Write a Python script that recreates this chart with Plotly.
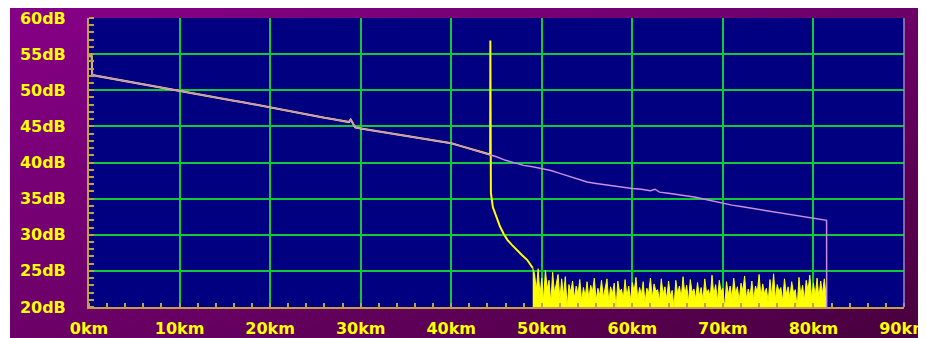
import base64
import plotly.graph_objects as go

# ---------------- data ----------------
# Violet trace (full fibre trace), distance in km, level in dB
pink_km = [0, 0.3, 0.35, 1, 2, 3, 4, 5, 6, 7, 8, 9, 10, 11, 12, 13, 14, 15, 16, 17, 18, 19,
           20, 21, 22, 23, 24, 25, 26, 27, 28, 28.7, 28.9, 29.1, 29.4, 30, 31, 32, 33, 34,
           35, 36, 37, 38, 39, 40, 41, 42, 43, 44, 44.5, 45, 46, 47, 48, 49, 50, 51, 52,
           53, 54, 55, 56, 57, 58, 59, 60, 61, 62, 62.5, 63, 64, 65, 66, 67, 68, 69, 70,
           71, 72, 73, 74, 75, 76, 77, 78, 79, 80, 81, 81.45, 81.46]
pink_db = [54.7, 54.7, 52.1, 51.95, 51.7, 51.5, 51.25, 51.0, 50.8, 50.6, 50.35, 50.15, 49.9,
           49.7, 49.4, 49.2, 49.0, 48.8, 48.55, 48.35, 48.1, 47.9, 47.7, 47.45, 47.2, 46.9,
           46.65, 46.4, 46.2, 46.0, 45.8, 45.6, 45.95, 45.5, 44.85, 44.7, 44.5, 44.3, 44.1,
           43.9, 43.7, 43.5, 43.3, 43.1, 42.9, 42.65, 42.3, 41.95, 41.6, 41.2, 41.0, 40.8,
           40.3, 39.9, 39.6, 39.4, 39.2, 38.9, 38.5, 38.1, 37.7, 37.3, 37.1, 36.9, 36.7,
           36.5, 36.4, 36.3, 36.1, 36.3, 35.9, 35.75, 35.6, 35.4, 35.2, 34.9, 34.6, 34.35,
           34.1, 33.9, 33.7, 33.5, 33.3, 33.1, 32.9, 32.7, 32.5, 32.3, 32.1, 32.0, 19.0]

# Yellow trace: reflection event near 44.3 km and decay
reflect_km = [44.3, 44.32, 44.38, 44.6, 45.0, 45.4, 45.8, 46.2, 46.7, 47.2, 47.8, 48.4, 49.0]
reflect_db = [41.1, 56.9, 35.8, 33.8, 32.3, 31.1, 30.1, 29.3, 28.6, 27.9, 27.2, 26.5, 25.4]

# Yellow trace: noise floor after the reflection (one reading every 0.2 km from 49.2 km)
noise_start_km = 49.2
noise_step_km = 0.2
noise_db = [
    24.6, 22.3, 25.3, 21.6, 24.0, 20.9, 25.1, 22.5, 23.7, 20.6,
    24.8, 21.9, 23.4, 24.5, 21.0, 23.9, 21.5, 24.2, 19.9, 23.1,
    22.0, 23.6, 21.2, 22.9, 21.7, 23.8, 20.8, 22.7, 21.4, 23.5,
    21.1, 23.0, 22.1, 24.0, 20.9, 22.6, 21.6, 23.7, 21.3, 22.4,
    23.9, 20.7, 22.8, 21.8, 23.3, 19.8, 23.6, 22.0, 22.5, 21.1,
    23.8, 21.4, 22.9, 20.9, 23.4, 22.1, 24.1, 21.0, 22.7, 21.6,
    23.5, 20.6, 22.6, 21.9, 24.0, 21.2, 23.2, 22.2, 22.4, 20.8,
    23.9, 21.7, 22.8, 21.0, 23.6, 21.5, 22.3, 19.9, 23.7, 21.8,
    22.9, 21.2, 24.2, 21.7, 23.0, 20.7, 23.8, 22.0, 22.5, 21.1,
    23.4, 21.5, 22.7, 20.9, 23.9, 21.9, 22.4, 21.3, 24.4, 21.6,
    23.1, 20.8, 23.7, 22.1, 22.6, 19.8, 23.5, 21.7, 22.9, 21.2,
    24.0, 21.8, 22.8, 20.8, 23.3, 22.2, 24.3, 21.1, 22.5, 21.5,
    23.6, 20.9, 22.9, 22.0, 24.5, 21.3, 23.2, 21.8, 22.6, 20.7,
    23.8, 21.4, 24.6, 21.0, 23.1, 22.1, 22.7, 20.8, 23.9, 21.7,
    22.8, 21.2, 23.5, 21.9, 22.4, 19.9, 24.1, 21.6, 23.0, 20.9,
    23.7, 22.2, 24.4, 21.1, 23.3, 21.5, 24.0, 21.2, 23.6, 21.8,
    23.9, 21.4,
]
noise_end_km = 81.45
noise_end_db = 19.0

x_tick_vals = [0, 10, 20, 30, 40, 50, 60, 70, 80, 90]
x_tick_text = ["0km", "10km", "20km", "30km", "40km", "50km", "60km", "70km", "80km", "90km"]
y_tick_vals = [20, 25, 30, 35, 40, 45, 50, 55, 60]
y_tick_text = ["20dB", "25dB", "30dB", "35dB", "40dB", "45dB", "50dB", "55dB", "60dB"]

# ---------------- build traces ----------------
yel_km = [k for k in pink_km if k <= 44.0]
yel_db = [d for k, d in zip(pink_km, pink_db) if k <= 44.0]
yel_km += reflect_km
yel_db += reflect_db

n_km = [reflect_km[-1]] + [round(noise_start_km + i * noise_step_km, 3) for i in range(len(noise_db))] + [noise_end_km]
n_db = [reflect_db[-1]] + noise_db + [noise_end_db]

YELLOW = "#ffff00"
PINK = "#c88ee0"

fig = go.Figure()
fig.add_trace(go.Scatter(x=n_km, y=n_db, mode="lines", line=dict(color=YELLOW, width=1),
                         fill="tozeroy", fillcolor=YELLOW, hoverinfo="skip", showlegend=False))
fig.add_trace(go.Scatter(x=yel_km, y=yel_db, mode="lines", line=dict(color=YELLOW, width=2),
                         showlegend=False))
fig.add_trace(go.Scatter(x=pink_km, y=pink_db, mode="lines", line=dict(color=PINK, width=1.5),
                         showlegend=False))

# gradient background (purple) as an SVG image
svg = ('<svg xmlns="http://www.w3.org/2000/svg" width="100" height="100" viewBox="0 0 100 100" '
       'preserveAspectRatio="none"><defs><linearGradient id="g" x1="0" y1="0" x2="1" y2="1">'
       '<stop offset="0" stop-color="#860086"/><stop offset="0.5" stop-color="#6c0068"/>'
       '<stop offset="1" stop-color="#48003e"/></linearGradient></defs>'
       '<rect width="100" height="100" fill="url(#g)"/></svg>')
src = "data:image/svg+xml;base64," + base64.b64encode(svg.encode()).decode()

# the page body adds an 8px offset; figure sized to fill the rest of the window
W, H = 918, 330
L, R, T, B = 81, 22, 10, 31
pw, ph = W - L - R, H - T - B
bx0 = (2 - L) / pw
bx1 = (W - L) / pw
by_top = (H - B) / ph
by_bot = -B / ph

fig.add_layout_image(dict(source=src, xref="paper", yref="paper", x=bx0, y=by_top,
                          sizex=bx1 - bx0, sizey=by_top - by_bot, xanchor="left",
                          yanchor="top", sizing="stretch", layer="below"))
fig.add_shape(type="rect", xref="paper", yref="paper", x0=0, x1=1, y0=0, y1=1,
              fillcolor="#000080", line=dict(width=0), layer="below")
fig.add_shape(type="line", xref="paper", yref="paper", x0=1, x1=1, y0=0, y1=1,
              line=dict(color="#9c88c0", width=1.5), layer="above")

tick_font = dict(family="DejaVu Sans", size=16, color=YELLOW, weight="bold")
GOLD = "#c0a048"
GREEN = "#10c838"

fig.update_xaxes(range=[0, 90], tickmode="array", tickvals=x_tick_vals, ticktext=x_tick_text,
                 showgrid=True, gridcolor=GREEN, gridwidth=1.5, zeroline=False,
                 showline=True, linecolor=GOLD, linewidth=2, ticks="", tickfont=tick_font,
                 ticklabelstandoff=6, automargin=False, ticklabeloverflow="allow",
                 minor=dict(dtick=2, tick0=0, ticks="inside", ticklen=4, tickcolor=GOLD,
                            tickwidth=1.5, showgrid=False))
fig.update_yaxes(range=[20, 60], tickmode="array", tickvals=y_tick_vals, ticktext=y_tick_text,
                 showgrid=True, gridcolor=GREEN, gridwidth=1.5, zeroline=False,
                 showline=True, linecolor=GOLD, linewidth=2, ticks="", tickfont=tick_font,
                 ticklabelstandoff=18, automargin=False, ticklabeloverflow="allow",
                 minor=dict(dtick=1, tick0=0, ticks="inside", ticklen=5, tickcolor=GOLD,
                            tickwidth=1.5, showgrid=False))

fig.update_layout(width=W, height=H, autosize=False,
                  margin=dict(l=L, r=R, t=T, b=B, pad=0),
                  paper_bgcolor="#ffffff", plot_bgcolor="rgba(0,0,0,0)",
                  showlegend=False)

fig.write_html("out.html")
